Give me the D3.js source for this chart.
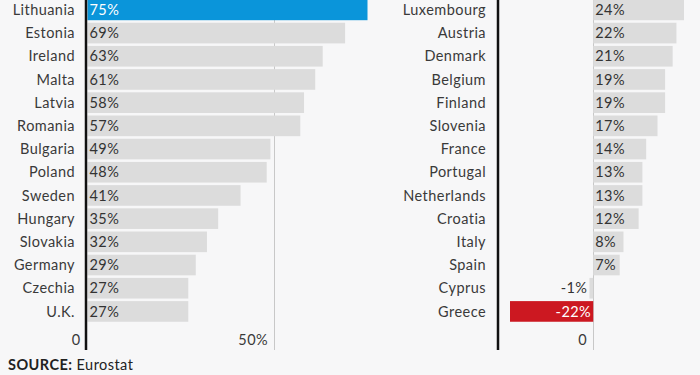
<!DOCTYPE html>
<html>
<head>
<meta charset="utf-8">
<script src="https://cdn.jsdelivr.net/npm/d3@7"></script>
<style>
  body { margin: 0; background: #f7f7f8; }
  svg { display: block; font-family: "Lato", "Open Sans", sans-serif; }
  text { letter-spacing: 0.45px; }
</style>
</head>
<body>
<div id="chart"></div>
<script>
"use strict";

// left column
var leftCountries = ["Lithuania", "Estonia", "Ireland", "Malta", "Latvia", "Romania", "Bulgaria",
  "Poland", "Sweden", "Hungary", "Slovakia", "Germany", "Czechia", "U.K."];
var leftValues = [75, 69, 63, 61, 58, 57, 49, 48, 41, 35, 32, 29, 27, 27];

// right column
var rightCountries = ["Luxembourg", "Austria", "Denmark", "Belgium", "Finland", "Slovenia", "France",
  "Portugal", "Netherlands", "Croatia", "Italy", "Spain", "Cyprus", "Greece"];
var rightValues = [24, 22, 21, 19, 19, 17, 14, 13, 13, 12, 8, 7, -1, -22];

var leftTicks = [0, 50];
var rightTicks = [0];
var highlight = { "Lithuania": "#0a95da", "Greece": "#cc1821" };

var width = 700, height = 375;
var axisBottom = 350;

var svg = d3.select("#chart").append("svg")
  .attr("width", width)
  .attr("height", height);

var y = d3.scaleBand()
  .domain(d3.range(14))
  .range([-3, 324.3])
  .padding(0.11);

var xL = d3.scaleLinear().domain([0, 75]).range([87.5, 367.5]);
var xR = d3.scaleLinear().domain([-22, 24]).range([510, 684]);

function panel(names, values, x, ticks, labelRight, axisX) {
  var g = svg.append("g");
  var data = names.map(function(n, i) { return { name: n, value: values[i], i: i }; });

  // gridlines
  g.selectAll(".grid")
    .data(ticks.filter(function(t) { return t !== 0 || x.domain()[0] < 0; }))
    .enter().append("line")
    .attr("x1", function(d) { return Math.round(x(d)) + 0.5; })
    .attr("x2", function(d) { return Math.round(x(d)) + 0.5; })
    .attr("y1", 0)
    .attr("y2", axisBottom)
    .attr("stroke", "#c8c8c8")
    .attr("stroke-width", 1);

  g.selectAll(".bar")
    .data(data)
    .enter().append("rect")
    .attr("x", function(d) { return x(Math.min(0, d.value)); })
    .attr("width", function(d) { return Math.abs(x(d.value) - x(0)); })
    .attr("y", function(d) { return y(d.i); })
    .attr("height", y.bandwidth())
    .attr("fill", function(d) { return highlight[d.name] || "#dcdcdc"; });

  // value labels
  g.selectAll(".val")
    .data(data)
    .enter().append("text")
    .attr("x", function(d) {
      if (d.value >= 0) return x(0) + 2;
      if (d.value < -5) return x(0) - 2;
      return x(d.value) - 2;
    })
    .attr("y", function(d) { return y(d.i) + y.bandwidth() / 2; })
    .attr("dy", "0.36em")
    .attr("text-anchor", function(d) { return d.value >= 0 ? "start" : "end"; })
    .attr("font-size", "14.5px")
    .attr("fill", function(d) { return highlight[d.name] ? "#fff" : "#333"; })
    .text(function(d) { return d.value + "%"; });

  // country names
  g.selectAll(".name")
    .data(data)
    .enter().append("text")
    .attr("x", labelRight)
    .attr("y", function(d) { return y(d.i) + y.bandwidth() / 2; })
    .attr("dy", "0.36em")
    .attr("text-anchor", "end")
    .attr("font-size", "14.5px")
    .attr("fill", "#3a3a3a")
    .text(function(d) { return d.name; });

  // tick labels
  g.selectAll(".tick")
    .data(ticks)
    .enter().append("text")
    .attr("x", function(d) { return d === 0 && x.domain()[0] >= 0 ? x(d) - 7 : x(d) - 6; })
    .attr("y", 340)
    .attr("dy", "0.36em")
    .attr("text-anchor", "end")
    .attr("font-size", "14.5px")
    .attr("fill", "#3a3a3a")
    .text(function(d) { return d === 0 ? "0" : d + "%"; });

  // black axis
  g.append("line")
    .attr("x1", axisX).attr("x2", axisX)
    .attr("y1", 0).attr("y2", axisBottom)
    .attr("stroke", "#111")
    .attr("stroke-width", 2.5);
}

panel(leftCountries, leftValues, xL, leftTicks, 75, 86);
panel(rightCountries, rightValues, xR, rightTicks, 486, 498);

var src = svg.append("text")
  .attr("x", 8)
  .attr("y", 370)
  .attr("font-size", "14.5px")
  .attr("fill", "#222");
src.append("tspan").attr("font-weight", "bold").text("SOURCE:");
src.append("tspan").text(" Eurostat");
</script>
</body>
</html>
